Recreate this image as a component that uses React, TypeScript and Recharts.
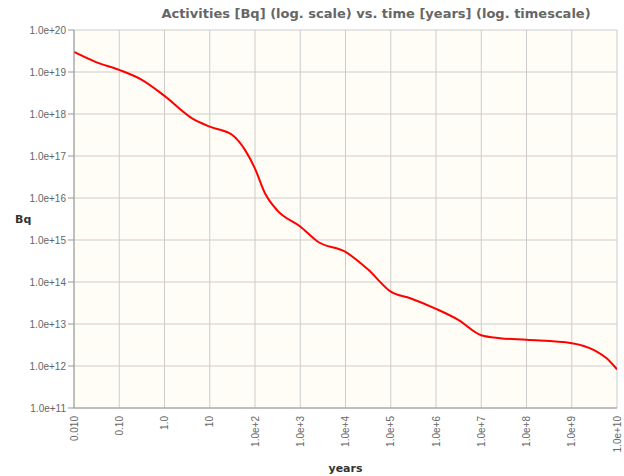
import { LineChart, Line, XAxis, YAxis, CartesianGrid, Label } from 'recharts';

// time points in years (log timescale)
const years = [
  0.01, 0.0316, 0.1, 0.316, 1, 4, 10, 31, 60, 100, 166, 310, 1000, 2450, 1e4, 3.2e4,
  1e5, 2.7e5, 1e6, 3.1e6, 1e7, 2.6e7, 1e8, 1e9, 3.1e9, 6e9, 1e10,
];

// activity in Bq
const activity = [
  3.0e19, 1.7e19, 1.12e19, 6.5e18, 2.7e18, 8.0e17, 5.0e17, 3.2e17, 1.4e17, 5.0e16, 1.3e16,
  5.1e15, 2.1e15, 9.1e14, 5.2e14, 1.95e14, 5.9e13, 4.1e13, 2.3e13, 1.26e13, 5.4e12, 4.6e12,
  4.2e12, 3.5e12, 2.4e12, 1.5e12, 8.3e11,
];

const xTicks = [0.01, 0.1, 1, 10, 1e2, 1e3, 1e4, 1e5, 1e6, 1e7, 1e8, 1e9, 1e10];
const xTickLabels = [
  '0.010', '0.10', '1.0', '10', '1.0e+2', '1.0e+3', '1.0e+4', '1.0e+5', '1.0e+6',
  '1.0e+7', '1.0e+8', '1.0e+9', '1.0e+10',
];

const yTicks = [1e11, 1e12, 1e13, 1e14, 1e15, 1e16, 1e17, 1e18, 1e19, 1e20];
const yTickLabels = [
  '1.0e+11', '1.0e+12', '1.0e+13', '1.0e+14', '1.0e+15', '1.0e+16', '1.0e+17',
  '1.0e+18', '1.0e+19', '1.0e+20',
];

const data = years.map((t, i) => ({ t, a: activity[i] }));

const tickFont = '"Liberation Sans", Arial, sans-serif';
const titleFont = '"DejaVu Sans", sans-serif';

const XTick = (props: any) => {
  const { x, y, payload } = props;
  const idx = xTicks.indexOf(payload.value);
  const label = idx >= 0 ? xTickLabels[idx] : String(payload.value);
  return (
    <text
      x={x}
      y={y + 6}
      transform={`rotate(-90, ${x}, ${y + 6})`}
      textAnchor="end"
      dy="0.35em"
      fontSize={10}
      fontFamily={tickFont}
      fill="#666"
    >
      {label}
    </text>
  );
};

const yFormat = (v: number) => {
  const idx = yTicks.indexOf(v);
  return idx >= 0 ? yTickLabels[idx] : String(v);
};

export default function App() {
  return (
    <div style={{ position: 'absolute', left: 0, top: 0, width: 624, height: 476, background: '#fff' }}>
      <div
        style={{
          position: 'absolute',
          left: 64,
          top: 6,
          width: 624,
          textAlign: 'center',
          fontFamily: titleFont,
          fontWeight: 'bold',
          fontSize: 13,
          color: '#666',
          whiteSpace: 'nowrap',
        }}
      >
        Activities [Bq] (log. scale) vs. time [years] (log. timescale)
      </div>
      <LineChart width={624} height={476} data={data} margin={{ top: 30, right: 7, bottom: 0, left: 0 }}>
        <CartesianGrid stroke="#ccc" fill="#fffdf5" />
        <XAxis
          dataKey="t"
          type="number"
          scale="log"
          domain={[0.01, 1e10]}
          ticks={xTicks}
          interval={0}
          allowDataOverflow
          height={68}
          tick={<XTick />}
          tickSize={0}
          stroke="#999"
        >
          <Label
            value="years"
            position="insideBottom"
            offset={4}
            style={{ fontFamily: titleFont, fontWeight: 'bold', fontSize: 11, fill: '#333' }}
          />
        </XAxis>
        <YAxis
          dataKey="a"
          type="number"
          scale="log"
          domain={[1e11, 1e20]}
          ticks={yTicks}
          interval={0}
          allowDataOverflow
          width={74}
          tickFormatter={yFormat}
          tick={{ fontSize: 10, fontFamily: tickFont, fill: '#666' }}
          tickSize={6}
          tickMargin={2}
          stroke="#999"
        >
          <Label
            value="Bq"
            position="insideLeft"
            offset={15}
            style={{ fontFamily: titleFont, fontWeight: 'bold', fontSize: 11, fill: '#333', textAnchor: 'start' }}
          />
        </YAxis>
        <Line
          type="monotone"
          dataKey="a"
          stroke="#ff0000"
          strokeWidth={2}
          dot={false}
          isAnimationActive={false}
        />
      </LineChart>
    </div>
  );
}
